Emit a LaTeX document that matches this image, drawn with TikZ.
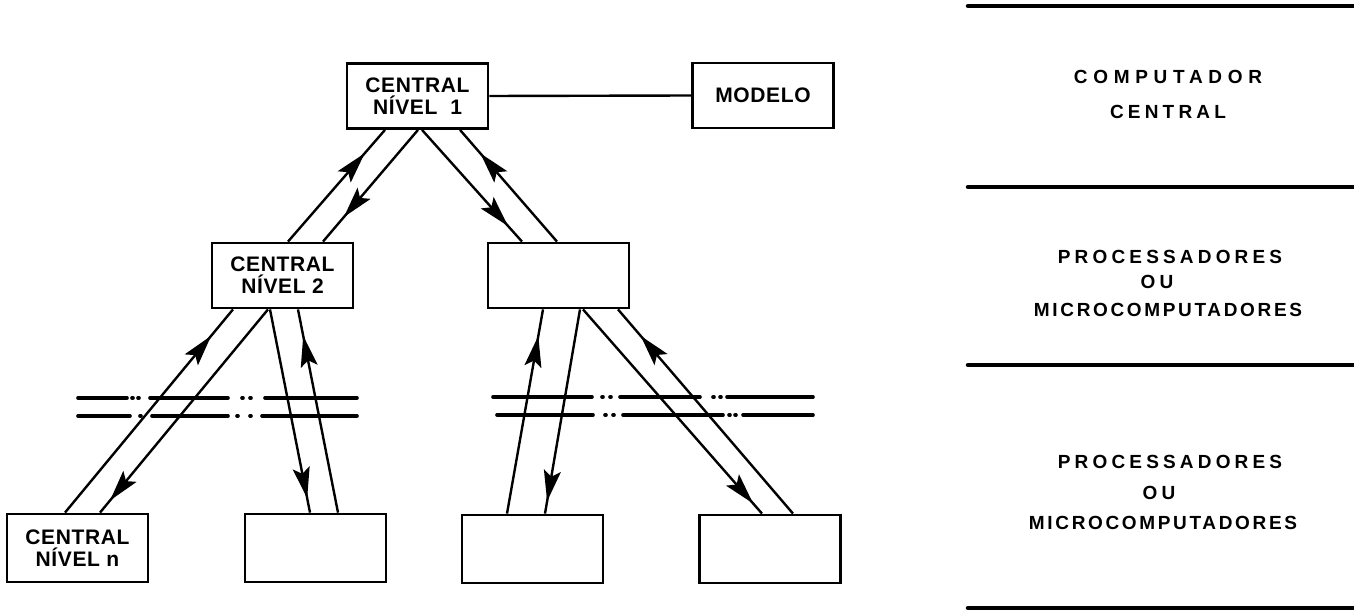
\documentclass[tikz,border=0pt]{standalone}
\usepackage{fontspec}
\setmainfont{Liberation Sans}
\newfontfamily\boxfont[LetterSpace=3]{Liberation Sans}
\newfontfamily\sidefont[LetterSpace=22]{Liberation Sans}
\newfontfamily\sidewide[LetterSpace=30]{Liberation Sans}
\newfontfamily\sidenarrow[LetterSpace=14]{Liberation Sans}
\usetikzlibrary{arrows.meta,decorations.markings}
\begin{document}
\begin{tikzpicture}[x=1pt,y=-1pt,
  box/.style={draw, line width=2.8pt, minimum width=141pt, minimum height=65pt, inner sep=0pt, align=center,
    font=\boxfont\bfseries\fontsize{21}{22}\selectfont},
  link/.style={line width=2.4pt},
  tipat/.style={postaction={decorate}, decoration={markings, mark=at position #1 with {\arrow{Stealth[length=31pt,width=17pt,inset=6pt]}}}},
  brk/.style={line width=3.6pt, line cap=round},
  sepline/.style={line width=4.5pt, line cap=round},
  side/.style={font=\sidefont\bfseries\fontsize{19}{20}\selectfont, inner sep=0pt}]
\useasboundingbox (0,0) rectangle (1354,612);

% boxes
\node[box] (c1) at (417.5,96) {CENTRAL\\NÍVEL\ \ 1};
\node[box] (mo) at (763,95.5) {MODELO};
\node[box] (c2) at (282.5,275.5) {CENTRAL\\NÍVEL 2};
\node[box] (m2) at (558.5,275.5) {};
\node[box, minimum height=68pt] (cn) at (77.5,548) {CENTRAL\\NÍVEL n};
\node[box, minimum height=68pt] (b2) at (315.5,548) {};
\node[box, minimum height=68pt] (b3) at (532.5,549) {};
\node[box, minimum height=68pt] (b4) at (770,549) {};

% link to model
\draw[link] (c1.east) -- (mo.west);

% level 1 <-> level 2
\draw[link, tipat=0.79] ([xshift=5.5pt]c2.north) -- ([xshift=-32.5pt]c1.south);
\draw[link, tipat=0.78] ([xshift=0.5pt]c1.south) -- ([xshift=40.5pt]c2.north);
\draw[link, tipat=0.86] ([xshift=4.5pt]c1.south) -- ([xshift=-36.5pt]m2.north);
\draw[link, tipat=0.79] ([xshift=-1.5pt]m2.north) -- ([xshift=42.5pt]c1.south);

% level 2 <-> level n
\draw[link, tipat=0.87] ([xshift=-12.5pt]cn.north) -- ([xshift=-49.5pt]c2.south);
\draw[link, tipat=0.94] ([xshift=-14.5pt]c2.south) -- ([xshift=22.5pt]cn.north);
\draw[link, tipat=0.93] ([xshift=-12.5pt]c2.south) -- ([xshift=-5.5pt]b2.north);
\draw[link, tipat=0.87] ([xshift=22.5pt]b2.north) -- ([xshift=15.5pt]c2.south);
\draw[link, tipat=0.87] ([xshift=-25.5pt]b3.north) -- ([xshift=-15.5pt]m2.south);
\draw[link, tipat=0.94] ([xshift=21.5pt]m2.south) -- ([xshift=12.5pt]b3.north);
\draw[link, tipat=0.95] ([xshift=24.5pt]m2.south) -- ([xshift=-8pt]b4.north);
\draw[link, tipat=0.87] ([xshift=23pt]b4.north) -- ([xshift=59.5pt]m2.south);

% break lines, left
\draw[brk] (78,398) -- (127,398) (132,398) -- (133,398) (138,398) -- (139,398)
  (150,398) -- (228,398) (242,398) -- (243,398) (250,398) -- (251,398) (265,398) -- (357,398);
\draw[brk] (78,416) -- (130,416) (140,416) -- (141,416)
  (152,416) -- (228,416) (237,416) -- (238,416) (250,416) -- (251,416) (262,416) -- (357,416);
% break lines, right
\draw[brk] (493,397) -- (592,397) (602,397) -- (603,397) (610,397) -- (611,397)
  (620,397) -- (700,397) (713,397) -- (714,397) (720,397) -- (721,397) (727,397) -- (813,397);
\draw[brk] (497,415) -- (593,415) (605,415) -- (606,415) (613,415) -- (614,415)
  (623,415) -- (723,415) (729,415) -- (730,415) (735,415) -- (736,415) (743,415) -- (813,415);

% right column
\draw[sepline] (968,6) -- (1356,6);
\draw[sepline] (968,187) -- (1356,187);
\draw[sepline] (968,365) -- (1356,365);
\draw[sepline] (968,608) -- (1356,608);

\node[side, font=\sidewide\bfseries\fontsize{19}{20}\selectfont] (t1) at (1168,77) {COMPUTADOR};
\node[side] (t2) at (1168,112) {CENTRAL};
\node[side] (t3) at (1170,257) {PROCESSADORES};
\node[side] (t4) at (1157,282) {OU};
\node[side, font=\sidenarrow\bfseries\fontsize{19}{20}\selectfont] (t5) at (1168,310) {MICROCOMPUTADORES};
\node[side] (t6) at (1170,462) {PROCESSADORES};
\node[side] (t7) at (1159,493) {OU};
\node[side, font=\sidenarrow\bfseries\fontsize{19}{20}\selectfont] (t8) at (1163,523) {MICROCOMPUTADORES};
\end{tikzpicture}
\end{document}
